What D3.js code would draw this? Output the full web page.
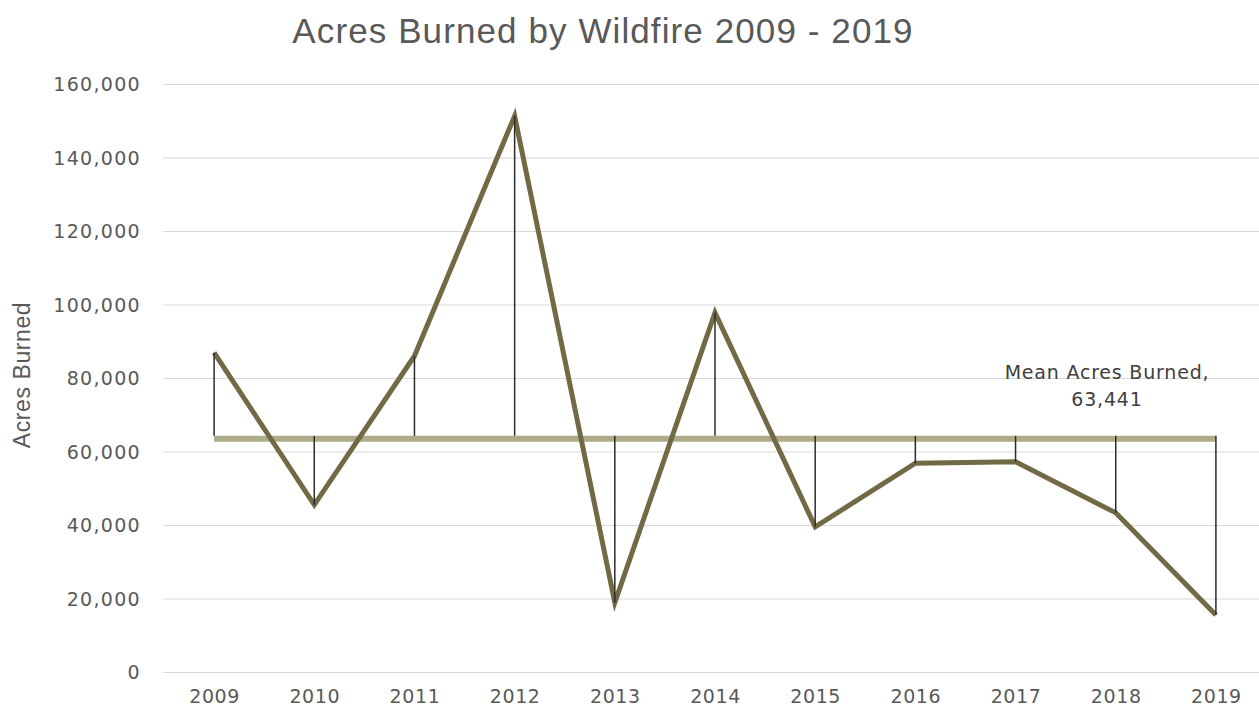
<!DOCTYPE html>
<html>
<head>
<meta charset="utf-8">
<script src="https://cdn.jsdelivr.net/npm/d3@7"></script>
<style>
  html, body { margin: 0; padding: 0; background: #ffffff; }
  svg { display: block; }
</style>
</head>
<body>
<svg id="chart" width="1259" height="717"></svg>
<script>
// ---- Data ----
const years = ["2009","2010","2011","2012","2013","2014","2015","2016","2017","2018","2019"];
const acres = [86900, 45500, 86000, 151300, 18900, 97800, 39500, 56800, 57200, 43300, 15500];
const meanAcres = 63441;
const yTicks = [0, 20000, 40000, 60000, 80000, 100000, 120000, 140000, 160000];
const titleText = "Acres Burned by Wildfire 2009 - 2019";
const yAxisTitle = "Acres Burned";
const meanLabel = ["Mean Acres Burned,", "63,441"];

// ---- Layout ----
const svg = d3.select("#chart");
const x = d3.scalePoint().domain(years).range([164, 1266]).padding(0.5);
const y = d3.scaleLinear().domain([0, 160000]).range([672, 84]);
const gridX0 = 163, gridX1 = 1259;
const fmt = d3.format(",");
const textColor = "#595959";
const tickFont = "'DejaVu Sans', Verdana, sans-serif";

// Gridlines via axis
const yAxis = d3.axisLeft(y).tickValues(yTicks).tickSize(-(gridX1 - gridX0)).tickFormat(fmt).tickPadding(22);
const gy = svg.append("g").attr("transform", `translate(${gridX0},0)`).call(yAxis);
gy.select(".domain").remove();
gy.selectAll(".tick line").attr("stroke", "#d9d9d9").attr("stroke-width", 1.2);
gy.selectAll(".tick text")
  .attr("fill", textColor)
  .attr("font-family", tickFont)
  .attr("font-size", 19)
  .attr("letter-spacing", "1.3px")
  .attr("dy", "0.35em");

// X axis labels
const xAxis = d3.axisBottom(x).tickSize(0).tickPadding(0);
const gx = svg.append("g").attr("transform", `translate(0,672)`).call(xAxis);
gx.select(".domain").remove();
gx.selectAll(".tick text")
  .attr("fill", textColor)
  .attr("font-family", tickFont)
  .attr("font-size", 19)
  .attr("letter-spacing", "0.6px")
  .attr("dy", 0)
  .attr("y", 31);

// Mean line
svg.append("line")
  .attr("x1", x(years[0])).attr("x2", x(years[years.length - 1]))
  .attr("y1", y(meanAcres)).attr("y2", y(meanAcres))
  .attr("stroke", "#aeac88").attr("stroke-width", 6);

// Data line
const line = d3.line().x((d, i) => x(years[i])).y(d => y(d));
svg.append("path")
  .datum(acres)
  .attr("d", line)
  .attr("fill", "none")
  .attr("stroke", "#726a45")
  .attr("stroke-width", 5)
  .attr("stroke-linejoin", "miter");

// Drop lines from mean to each value
svg.append("g").selectAll("line")
  .data(acres)
  .join("line")
  .attr("x1", (d, i) => x(years[i])).attr("x2", (d, i) => x(years[i]))
  .attr("y1", y(meanAcres) - 3).attr("y2", d => y(d))
  .attr("stroke", "#2b2b2b").attr("stroke-width", 1.5);

// Title
svg.append("text")
  .attr("x", 603).attr("y", 43)
  .attr("text-anchor", "middle")
  .attr("fill", textColor)
  .attr("font-family", "'Liberation Sans', Arial, sans-serif")
  .attr("font-size", 35)
  .attr("letter-spacing", "1.1px")
  .text(titleText);

// Y axis title
svg.append("text")
  .attr("transform", "translate(30,375) rotate(-90)")
  .attr("text-anchor", "middle")
  .attr("fill", textColor)
  .attr("font-family", "'Liberation Sans', Arial, sans-serif")
  .attr("font-size", 23)
  .attr("letter-spacing", "0.6px")
  .text(yAxisTitle);

// Mean annotation
svg.append("g").selectAll("text")
  .data(meanLabel)
  .join("text")
  .attr("x", 1107)
  .attr("y", (d, i) => 379 + i * 27)
  .attr("text-anchor", "middle")
  .attr("fill", "#404040")
  .attr("font-family", tickFont)
  .attr("font-size", 19)
  .attr("letter-spacing", "0.8px")
  .text(d => d);
</script>
</body>
</html>
